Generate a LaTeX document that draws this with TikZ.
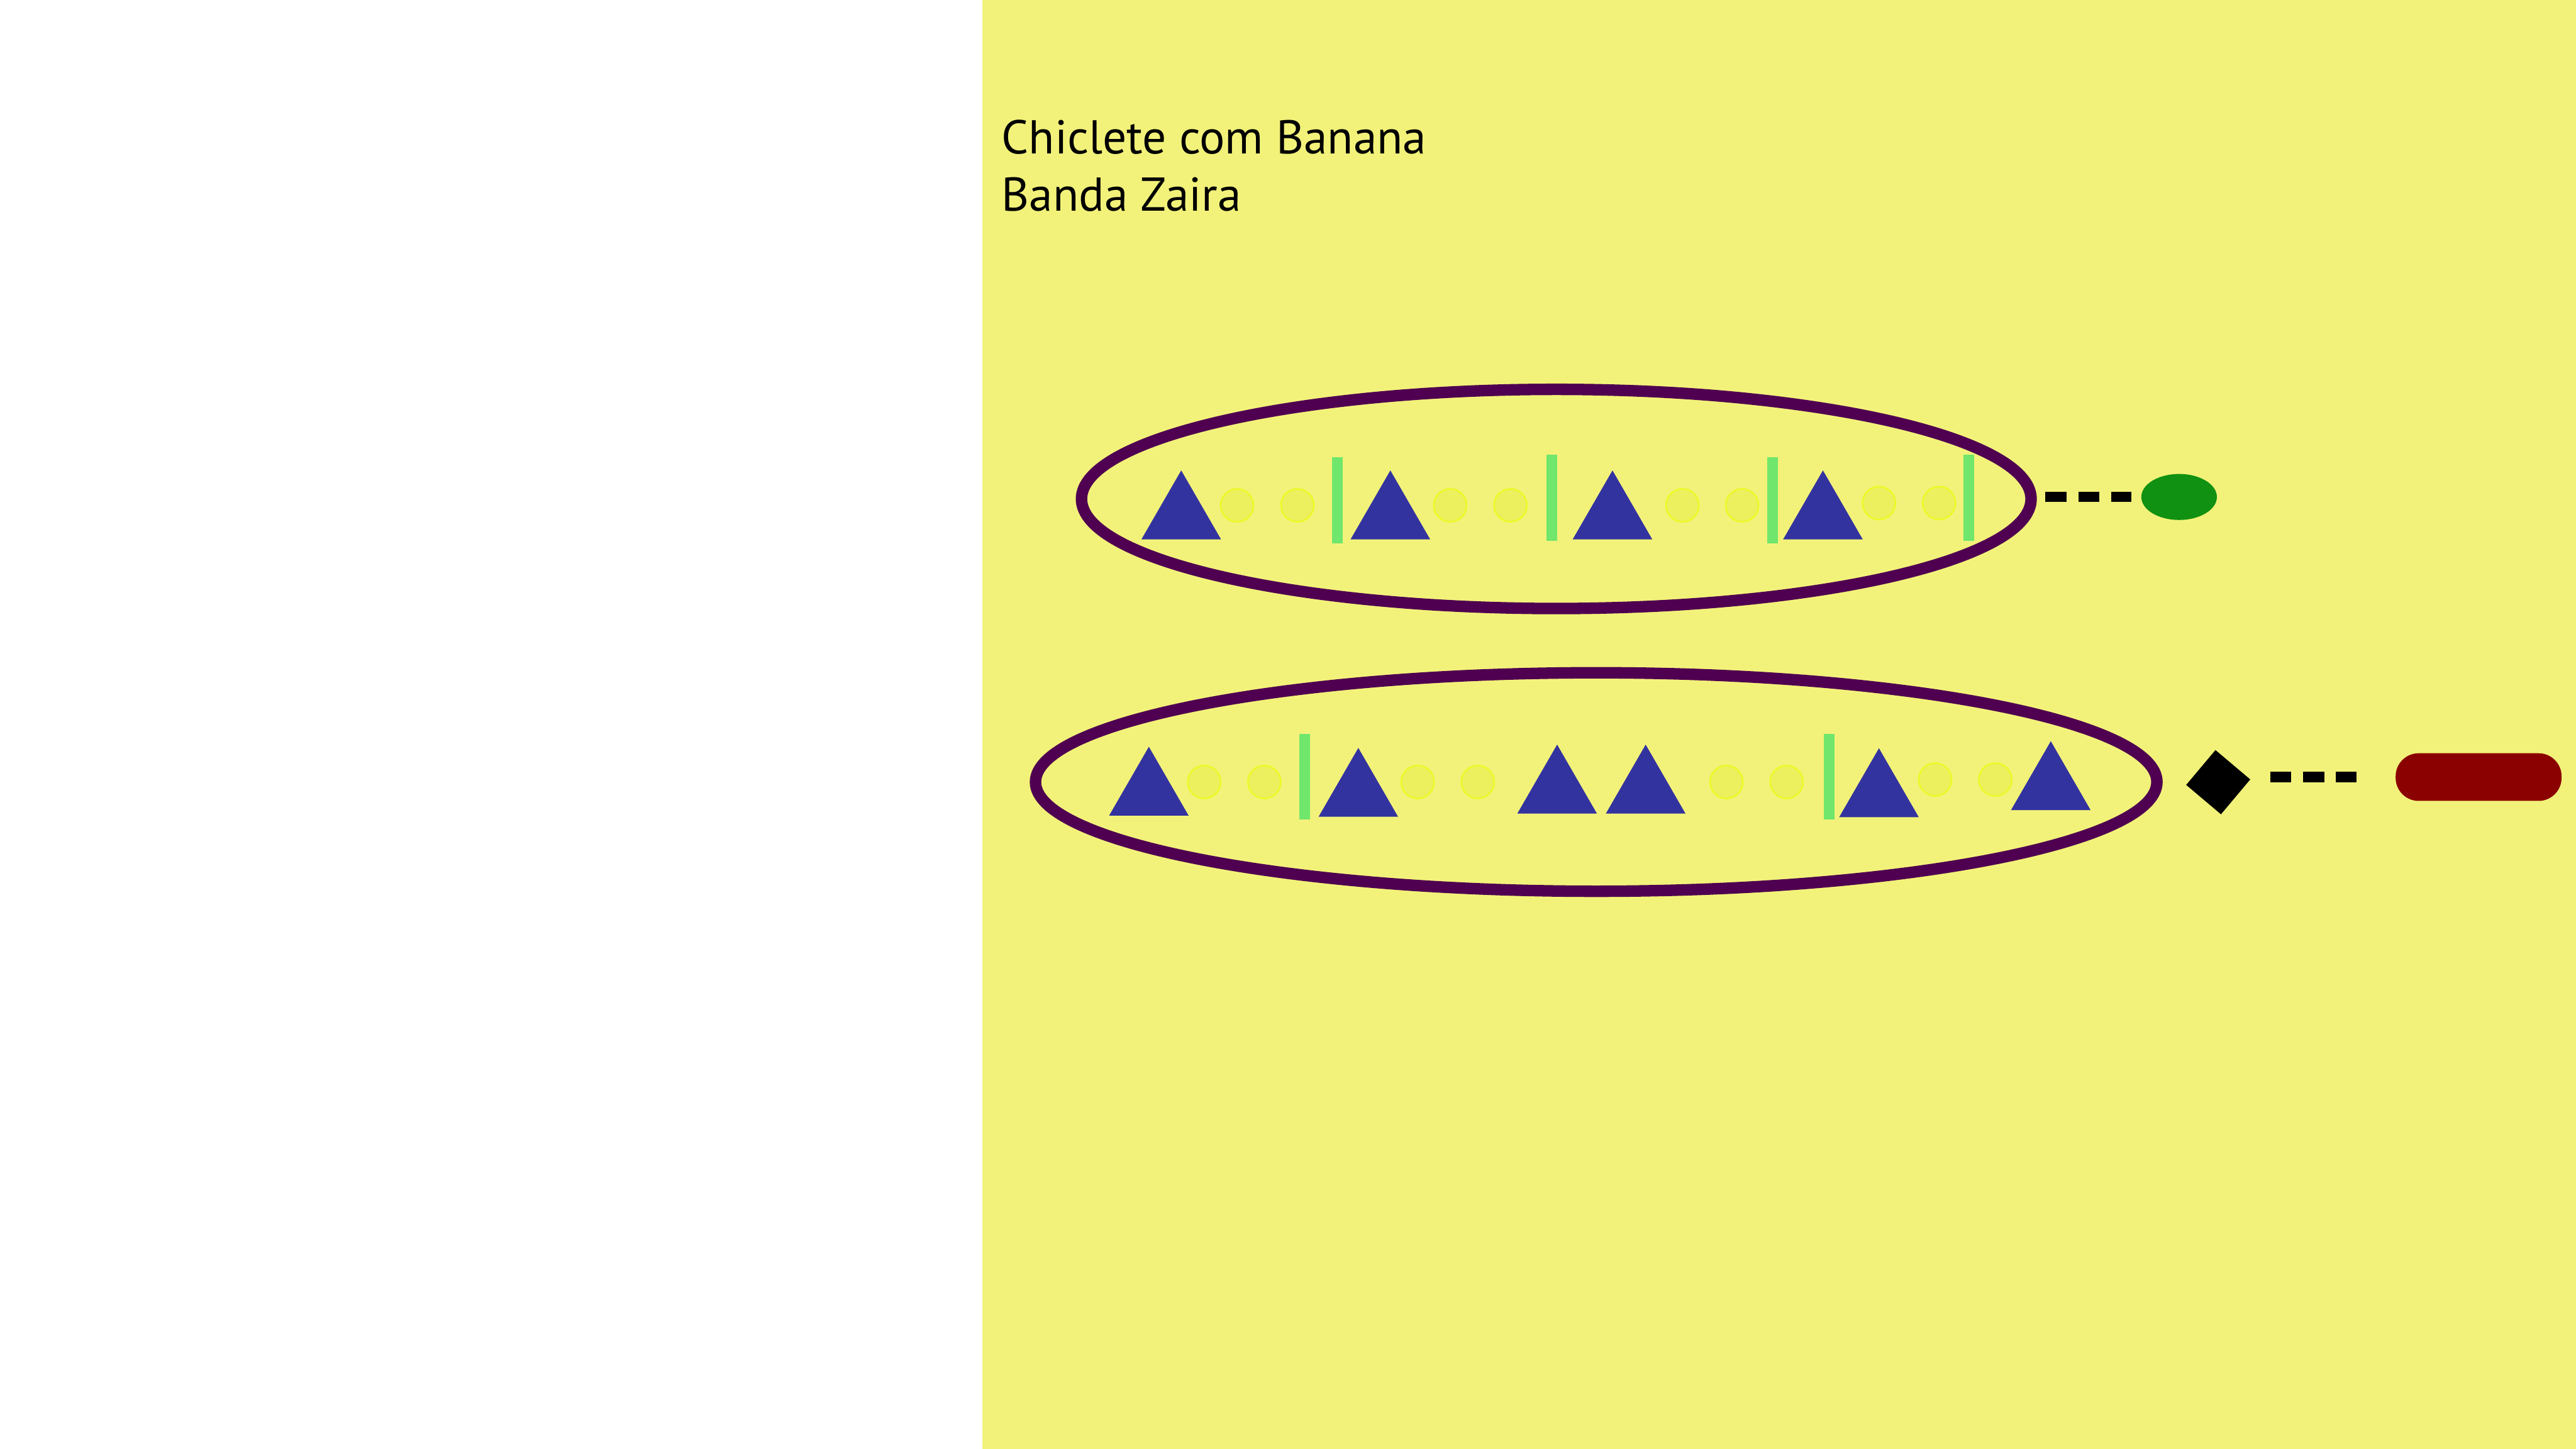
\documentclass[tikz,border=0pt]{standalone}
\usepackage{fontspec}
\setmainfont{PT Sans}
\usetikzlibrary{shapes.geometric}

\definecolor{bgyellow}{RGB}{242,242,122}
\definecolor{ringpurple}{RGB}{79,0,80}
\definecolor{triblue}{RGB}{51,51,160}
\definecolor{barmint}{RGB}{112,230,108}
\definecolor{dotfill}{RGB}{236,240,94}
\definecolor{dotrim}{RGB}{238,248,40}
\definecolor{leafgreen}{RGB}{17,145,17}
\definecolor{rubyred}{RGB}{139,0,0}

\tikzset{
  ring/.style={ellipse, draw=ringpurple, line width=7pt, inner sep=0pt},
  tri/.style={regular polygon, regular polygon sides=3, fill=triblue, inner sep=0pt, minimum size=55.9pt},
  blob/.style={circle, fill=dotfill, draw=dotrim, line width=1pt, inner sep=0pt, minimum size=20pt},
  stick/.style={rectangle, fill=barmint, inner sep=0pt, minimum width=6.5pt, minimum height=52.4pt},
  link/.style={black, line width=6.3pt, dash pattern=on 12.8pt off 7.2pt},
  label/.style={anchor=base west, inner sep=0pt, font=\fontsize{28.9}{35}\selectfont}
}

\begin{document}
\begin{tikzpicture}[x=1pt, y=-1pt]
  \useasboundingbox (0,0) rectangle (1568,882);
  \fill[white] (0,0) rectangle (597.9,882);
  \fill[bgyellow] (597.9,0) rectangle (1568,882);

  \node[label] (title) at (609.5,93.7) {Chiclete com Banana};
  \node[label] (subtitle) at (609.5,128.6) {Banda Zaira};

  \node[ring, minimum width=578pt, minimum height=133.4pt] (ringA) at (947.3,303.7) {};
  \node[ring, minimum width=682.6pt, minimum height=133pt] (ringB) at (971.6,476) {};

  \foreach \x [count=\i] in {719,846.3,981.5,1109.6}
    \node[tri] (triA\i) at (\x,314.3) {};
  \foreach \x/\y [count=\i] in {699.3/482.5,826.8/483.2,947.8/481.2,1001.7/481.2,1143.7/483.4,1248.3/479.1}
    \node[tri] (triB\i) at (\x,\y) {};

  \foreach \x/\y [count=\i] in {753/307.6,789.7/307.6,882.7/307.6,919.4/307.6,1024.1/307.6,1060.4/307.6,1143.7/306.2,1180.3/306.2}
    \node[blob] (dotA\i) at (\x,\y) {};
  \foreach \x/\y [count=\i] in {733/476,769.6/476,862.9/476,899.5/476,1050.9/476,1087.5/476,1177.9/474.5,1214.5/474.5}
    \node[blob] (dotB\i) at (\x,\y) {};

  \foreach \x/\y [count=\i] in {813.9/304.4,944.4/303,1078.8/304.4,1198.3/303}
    \node[stick] (stickA\i) at (\x,\y) {};
  \foreach \x [count=\i] in {794,1113.3}
    \node[stick] (stickB\i) at (\x,472.75) {};

  \node[ellipse, fill=leafgreen, inner sep=0pt, minimum width=46pt, minimum height=28pt] (leaf) at (1326.4,302.5) {};
  \node[diamond, fill=black, inner sep=0pt, aspect=1, minimum width=39.3pt, minimum height=39.4pt, rotate=4.9] (gem) at (1350.2,476.1) {};
  \node[rectangle, rounded corners=14pt, fill=rubyred, inner sep=0pt, minimum width=101pt, minimum height=29pt] (lozenge) at (1508.7,473) {};

  \draw[link, shorten <=5.2pt, shorten >=5.7pt] (ringA.east |- leaf.west) -- (leaf.west);
  \draw[link, shorten <=11.9pt, shorten >=23.8pt] (gem.east |- lozenge.west) -- (lozenge.west);
\end{tikzpicture}
\end{document}
